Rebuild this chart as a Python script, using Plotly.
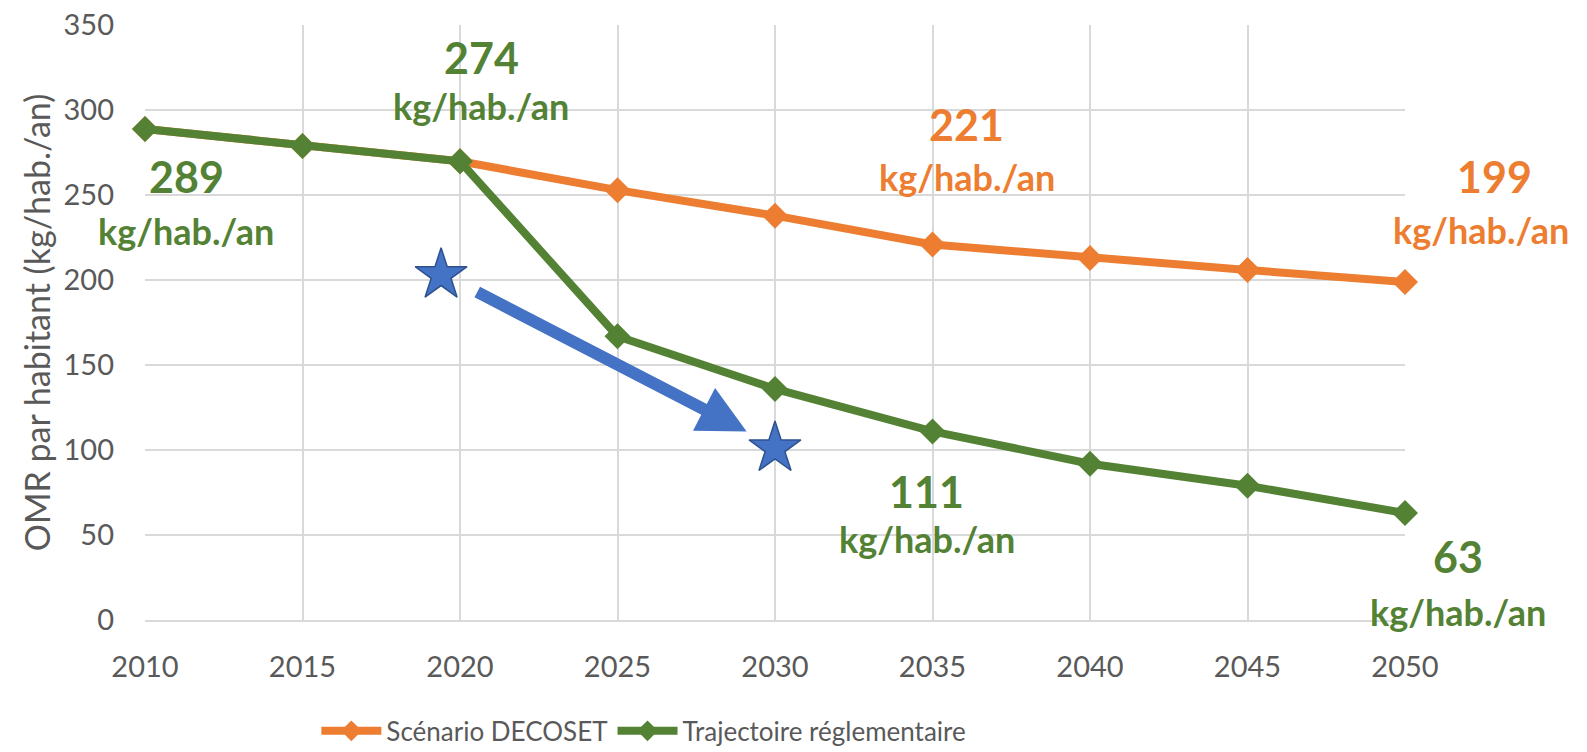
import plotly.graph_objects as go

years = [2010, 2015, 2020, 2025, 2030, 2035, 2040, 2045, 2050]
decoset = [289, 279, 270, 253, 238, 221, 213, 206, 199]
trajectoire = [289, 279, 270, 167, 136, 111, 92, 79, 63]
y_ticks = [0, 50, 100, 150, 200, 250, 300, 350]

series_names = ["Scénario DECOSET", "Trajectoire réglementaire"]
ORANGE = "#ED7D31"
GREEN = "#548235"
BLUE = "#4472C4"

# data labels: (series, year index, label text)
label_series = ["g", "g", "o", "o", "g", "g"]
label_index = [0, 2, 5, 8, 5, 8]
label_text = ["289", "274", "221", "199", "111", "63"]
unit_text = "kg/hab./an"
# pixel offsets (number), (unit)
num_shift = [(41, -48), (21, 104), (34, 120), (89, 105), (-6, -60), (53, -44)]
unit_shift = [(41, -102), (21, 55), (34, 68), (76, 52), (-6, -108), (53, -99)]

# stars and arrow (data coordinates)
star_x = [2019.4, 2030.0]
star_y = [203, 101]
arrow_start = (2020.5, 193.5)
arrow_end = (2029.1, 111.0)

fig = go.Figure()
fig.add_trace(go.Scatter(x=years, y=decoset, name=series_names[0], mode="lines+markers",
                         line=dict(color=ORANGE, width=8),
                         marker=dict(symbol="diamond", size=20, color=ORANGE),
                         cliponaxis=False))
fig.add_trace(go.Scatter(x=years, y=trajectoire, name=series_names[1], mode="lines+markers",
                         line=dict(color=GREEN, width=8),
                         marker=dict(symbol="diamond", size=20, color=GREEN),
                         cliponaxis=False))
fig.add_trace(go.Scatter(x=star_x, y=star_y, mode="markers", showlegend=False,
                         marker=dict(symbol="star", size=39, color=BLUE,
                                     line=dict(color="#2F528F", width=1.5)),
                         cliponaxis=False))

annotations = []
for s, i, t, ns, us in zip(label_series, label_index, label_text, num_shift, unit_shift):
    col = GREEN if s == "g" else ORANGE
    yv = trajectoire[i] if s == "g" else decoset[i]
    annotations.append(dict(x=years[i], y=yv, text="<b>%s</b>" % t, showarrow=False,
                            xshift=ns[0], yshift=ns[1],
                            font=dict(family="Lato", size=43, color=col)))
    annotations.append(dict(x=years[i], y=yv, text="<b>%s</b>" % unit_text, showarrow=False,
                            xshift=us[0], yshift=us[1],
                            font=dict(family="Lato", size=36, color=col)))

annotations.append(dict(x=arrow_end[0], y=arrow_end[1], ax=arrow_start[0], ay=arrow_start[1],
                        xref="x", yref="y", axref="x", ayref="y", text="",
                        showarrow=True, arrowhead=2, arrowsize=0.8, arrowwidth=12,
                        arrowcolor=BLUE))

fig.update_layout(
    width=1587, height=752,
    margin=dict(l=145, r=182, t=25, b=132, autoexpand=False),
    paper_bgcolor="white", plot_bgcolor="white",
    font=dict(family="Lato", color="#595959", size=28),
    showlegend=True,
    hovermode=False,
    legend=dict(orientation="h", x=0.136, xanchor="left", y=0.028, yanchor="middle",
                yref="container",
                font=dict(size=26, color="#595959"), itemwidth=60, tracegroupgap=0),
    annotations=annotations,
)
fig.update_xaxes(range=[2010, 2050], tickvals=years, showgrid=True, gridcolor="#D9D9D9",
                 gridwidth=2, showline=True, linecolor="#D9D9D9", linewidth=2,
                 zeroline=False, ticks="", ticklabelstandoff=20, automargin=False,
                 ticklabeloverflow="allow",
                 tickfont=dict(size=29, color="#595959"))
fig.update_yaxes(range=[0, 350.2], tickvals=y_ticks, showgrid=True, gridcolor="#D9D9D9",
                 gridwidth=2, showline=False, zeroline=False, ticks="",
                 ticklabelstandoff=30, automargin=False, ticklabeloverflow="allow",
                 tickfont=dict(size=29, color="#595959"),
                 title=dict(text="OMR par habitant (kg/hab./an)", standoff=2,
                            font=dict(size=34, color="#595959")))

fig.write_html("out.html", config={"displayModeBar": False},
               post_script="document.body.style.margin='0px';document.body.style.overflow='hidden';")
